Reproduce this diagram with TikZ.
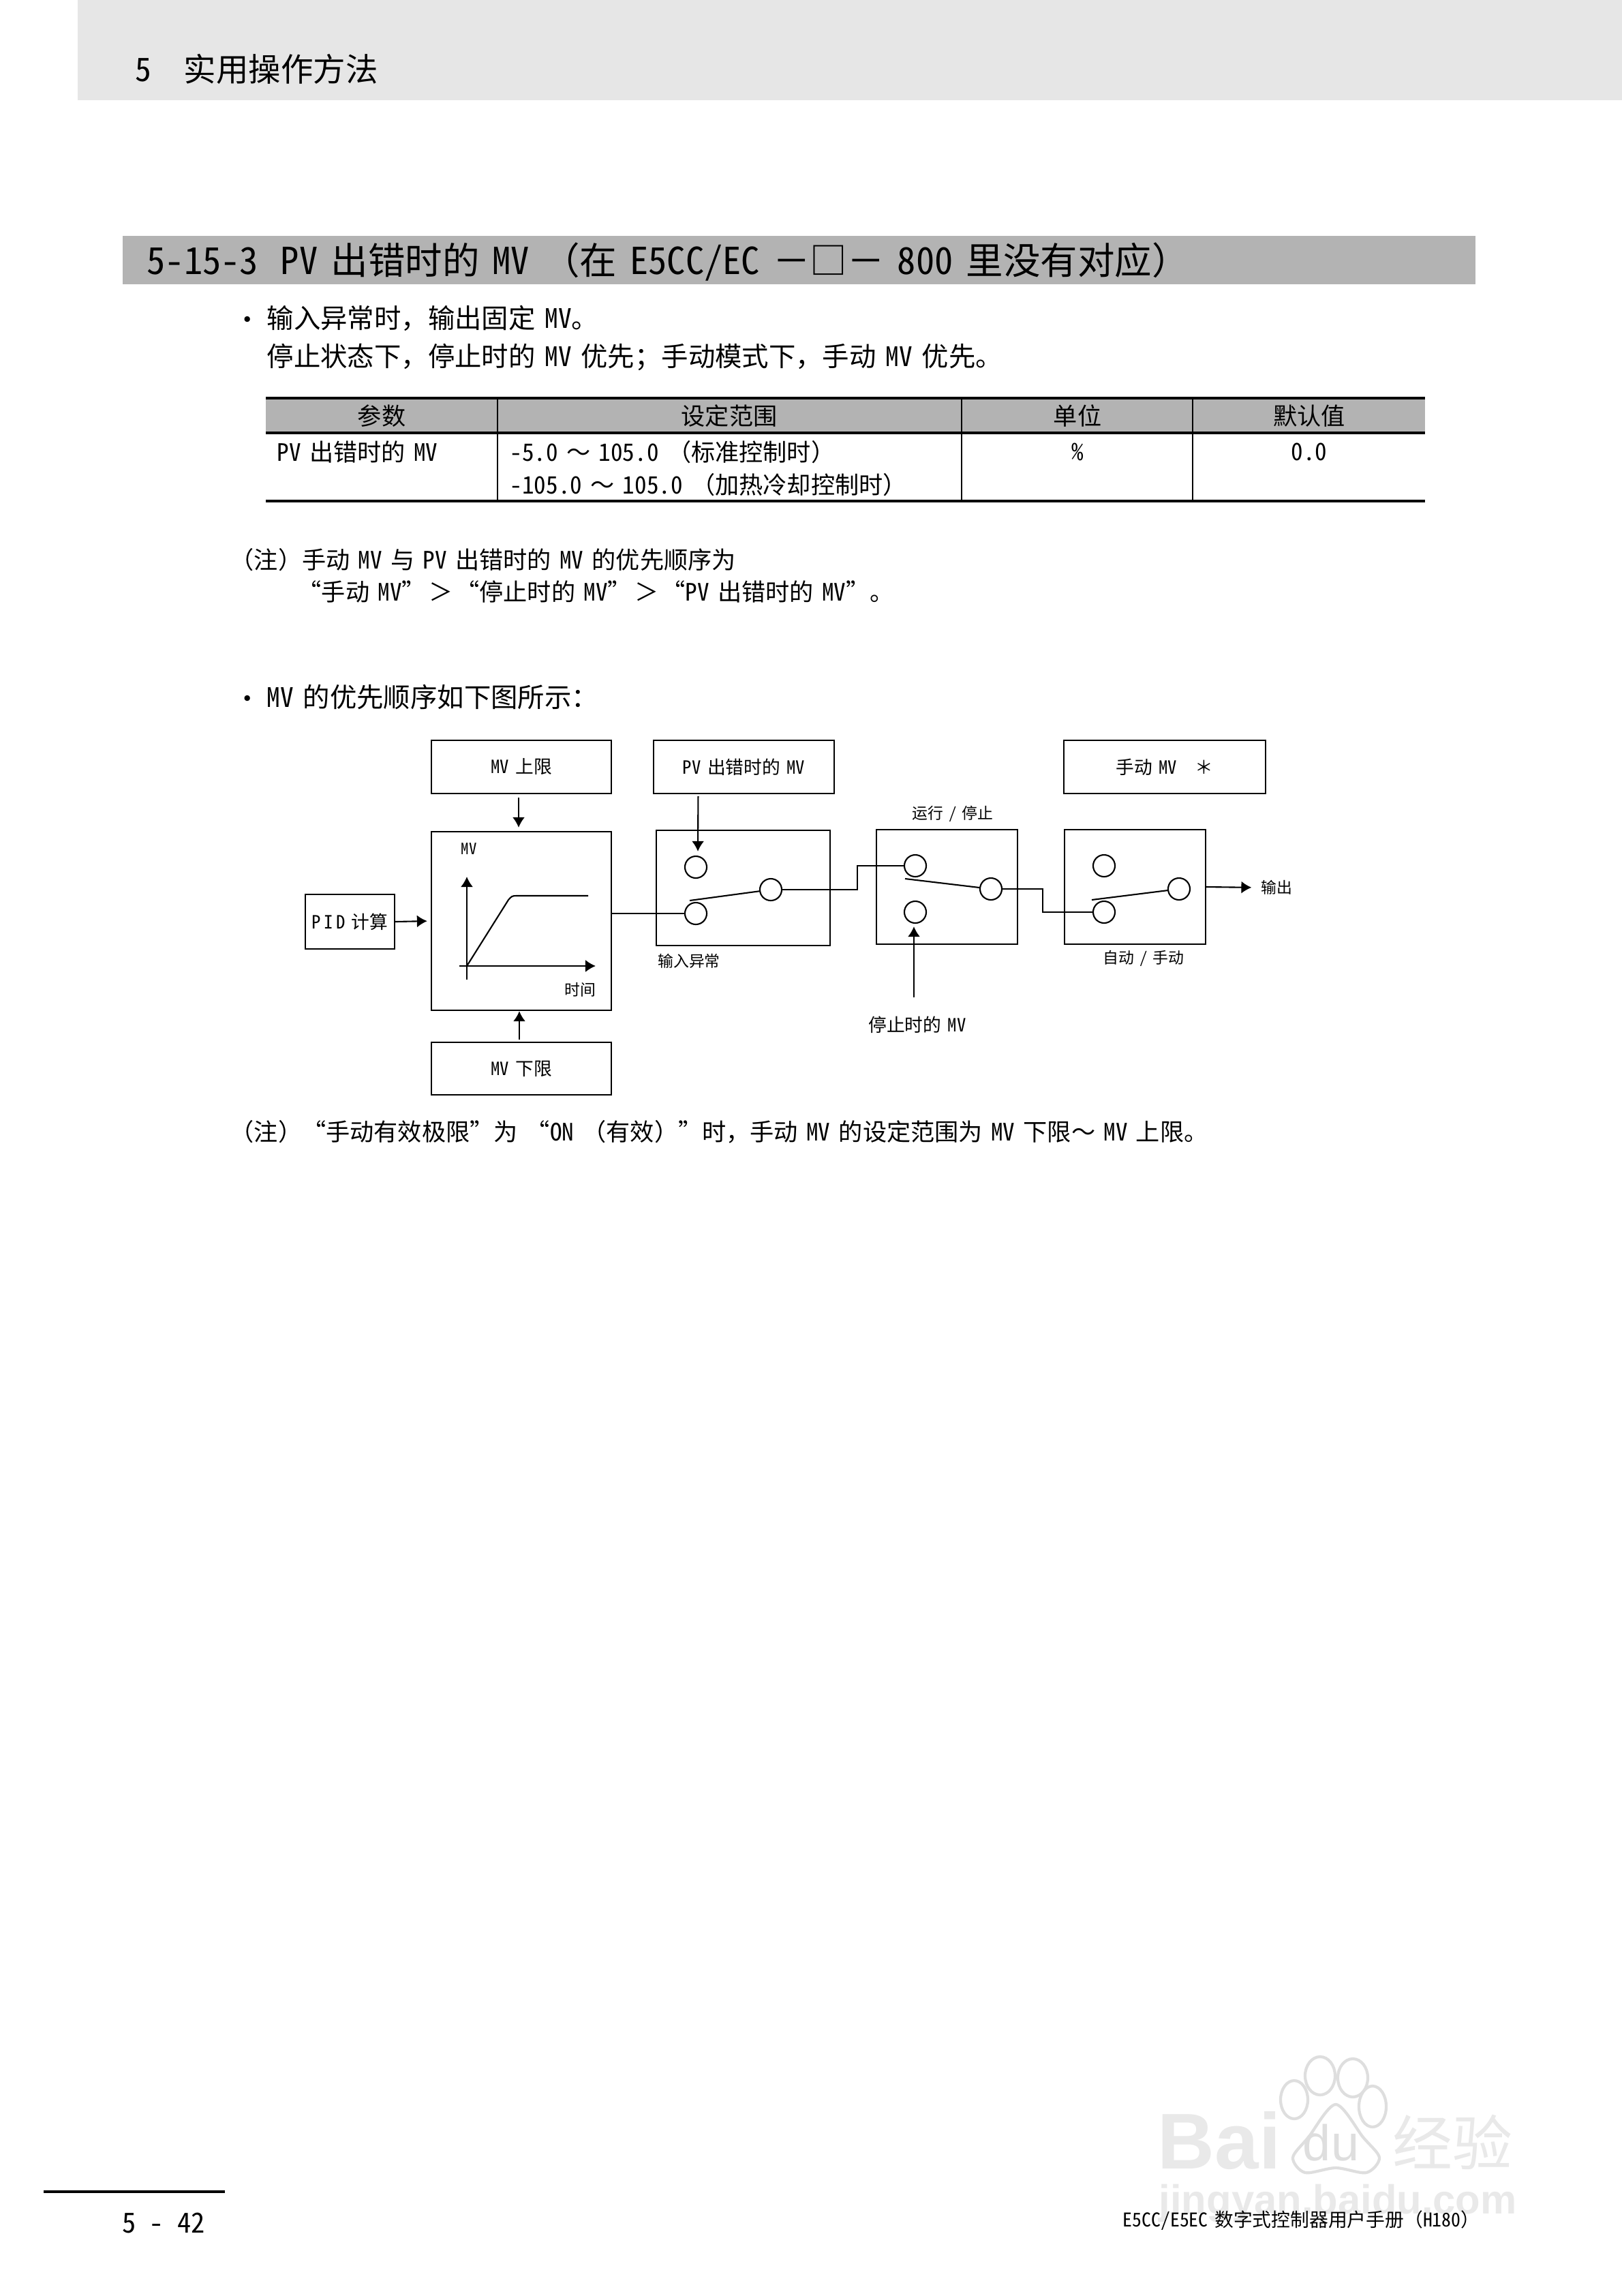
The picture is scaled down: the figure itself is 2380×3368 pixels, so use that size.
\documentclass[tikz,border=0pt]{standalone}
\usepackage{fontspec}
\setmainfont[RawFeature=+hwid,WordSpace=.7]{Noto Sans CJK SC}
\newfontfamily\fwfont[WordSpace=.7]{Noto Sans CJK SC}
\newfontfamily\markfont{Liberation Sans}
\newcommand{\fw}[1]{{\fwfont #1}}
\usetikzlibrary{arrows.meta}
\definecolor{pageband}{HTML}{E6E6E6}
\definecolor{titleband}{HTML}{B3B3B3}
\definecolor{markgray}{HTML}{E9E9E9}
\definecolor{markline}{HTML}{DEDEDE}
\tikzset{
  bodytext/.style={anchor=west,inner sep=0pt,font=\fontsize{11.2}{13}\selectfont},
  notetext/.style={anchor=west,inner sep=0pt,font=\fontsize{10}{12}\selectfont},
  celltext/.style={inner sep=0pt,font=\fontsize{10}{12}\selectfont},
  blocktext/.style={inner sep=0pt,font=\fontsize{7.6}{9}\selectfont},
  smalltext/.style={inner sep=0pt,font=\fontsize{6.5}{8}\selectfont},
  wire/.style={line width=.6pt},
  sig/.style={line width=.6pt,-{Latex[length=.15cm,width=.18cm]}},
  rule/.style={line width=1pt}
}
\begin{document}
\begin{tikzpicture}[x=.01cm,y=-.01cm]
      \useasboundingbox (0,0) rectangle (2380,3368);

      \fill[pageband] (114,0) rectangle (2380,147);
      \fill[titleband] (180,346) rectangle (2165,417);
      \fill[titleband] (390,586) rectangle (2091,634);

      \begin{scope}[every node/.style={inner sep=0pt,text=markgray}]
        \draw[markline,line width=1.2pt] (1899,3080) ellipse (20 and 28);
        \draw[markline,line width=1.2pt] (1937,3045) ellipse (22 and 28);
        \draw[markline,line width=1.2pt] (1985,3048) ellipse (22 and 28);
        \draw[markline,line width=1.2pt] (2014,3090) ellipse (20 and 30);
        \draw[markline,line width=1.2pt] plot[smooth cycle] coordinates {(1960,3087) (2000,3135) (2024,3165) (2005,3187) (1960,3180) (1915,3187) (1897,3165) (1920,3135)};
        \node[anchor=west,font=\bfseries\markfont\fontsize{33}{40}\selectfont] (markbai) at (1698,3140) {Bai};
        \node[font=\markfont\fontsize{21}{24}\selectfont,text=markline] (markdu) at (1953,3143) {du};
        \node[anchor=west,font=\fontsize{25}{30}\selectfont] (markjy) at (2043,3142) {经验};
        \node[anchor=west,font=\bfseries\markfont\fontsize{17}{20}\selectfont] (markurl) at (1700,3232) {jingyan.baidu.com};
      \end{scope}

      \node[anchor=west,inner sep=0pt,font=\fontsize{13.5}{16}\selectfont] (chapter) at (198,101) {5\hspace{1em}实用操作方法};
      \node[anchor=west,inner sep=0pt,font=\fontsize{15.5}{18}\selectfont] (title) at (215,384) {5-15-3\hspace{.6em}PV 出错时的 MV \fw{（}在 E5CC/EC \fw{－□－} 800 里没有对应\fw{）}};

      \begin{scope}[every node/.style={bodytext}]
        \node (dot1)  at (343,474)  {•};
        \node (line1) at (391,467)  {输入异常时\fw{，}输出固定 MV\fw{。}};
        \node (line2) at (391,524)  {停止状态下\fw{，}停止时的 MV 优先\fw{；}手动模式下\fw{，}手动 MV 优先\fw{。}};
        \node (dot2)  at (343,1030) {•};
        \node (line3) at (391,1023) {MV 的优先顺序如下图所示\fw{：}};
      \end{scope}

      \begin{scope}[every node/.style={notetext}]
        \node (note1) at (337,821)  {\fw{（注）}手动 MV 与 PV 出错时的 MV 的优先顺序为};
        \node (note2) at (436,868)  {“手动 MV”\hspace{.12em}\fw{＞}\hspace{.12em}“停止时的 MV”\hspace{.12em}\fw{＞}\hspace{.12em}“PV 出错时的 MV”\fw{。}};
        \node (note3) at (337,1660) {\fw{（注）}“手动有效极限”为 “ON \fw{（}有效\fw{）}”时\fw{，}手动 MV 的设定范围为 MV 下限\fw{～} MV 上限\fw{。}};
      \end{scope}

      \draw[rule] (390,584) -- (2091,584);
      \draw[rule] (390,635) -- (2091,635);
      \draw[rule] (390,735) -- (2091,735);
      \draw[line width=.4pt] (730,584) -- (730,735);
      \draw[line width=.4pt] (1411,584) -- (1411,735);
      \draw[line width=.4pt] (1750,584) -- (1750,735);

      \begin{scope}[every node/.style={celltext}]
        \node (head1) at (560,610)  {参数};
        \node (head2) at (1070,610) {设定范围};
        \node (head3) at (1581,610) {单位};
        \node (head4) at (1921,610) {默认值};
        \node[anchor=west] (cell1) at (406,663) {PV 出错时的 MV};
        \node[anchor=west] (cell2) at (748,663) {-5.0 \fw{～} 105.0 \fw{（}标准控制时\fw{）}};
        \node[anchor=west] (cell3) at (748,711) {-105.0 \fw{～} 105.0 \fw{（}加热冷却控制时\fw{）}};
        \node (cell4) at (1581,663) {\%};
        \node (cell5) at (1921,663) {0.0};
      \end{scope}

      \begin{scope}[every node/.style={draw,line width=.6pt,inner sep=0pt,blocktext}]
        \node[minimum width=2.64cm,minimum height=.78cm] (mvhi)  at (765,1125)    {MV 上限};
        \node[minimum width=2.64cm,minimum height=2.62cm] (mvbox) at (765,1351)   {};
        \node[minimum width=2.64cm,minimum height=.77cm] (mvlo)  at (765,1567.5)  {MV 下限};
        \node[minimum width=1.31cm,minimum height=.8cm] (pid)   at (513.5,1352)   {P\,I\,D 计算};
        \node[minimum width=2.65cm,minimum height=.78cm] (pverr) at (1091.5,1125) {PV 出错时的 MV};
        \node[minimum width=2.96cm,minimum height=.78cm] (manual) at (1709,1125)  {手动 MV\quad \fw{＊}};
        \node[minimum width=2.55cm,minimum height=1.69cm] (sw1) at (1090.5,1302.5) {};
        \node[minimum width=2.07cm,minimum height=1.68cm] (sw2) at (1389.5,1301)   {};
        \node[minimum width=2.07cm,minimum height=1.68cm] (sw3) at (1665.5,1301)   {};
      \end{scope}

      \begin{scope}[every node/.style={circle,draw,line width=.6pt,inner sep=0pt,minimum size=.32cm}]
        \node (c1a) at (1021,1272) {};
        \node (c1b) at (1021,1340) {};
        \node (c1c) at (1131,1305) {};
        \node (c2a) at (1343,1270) {};
        \node (c2b) at (1343,1338) {};
        \node (c2c) at (1454,1304) {};
        \node (c3a) at (1620,1270) {};
        \node (c3b) at (1620,1338) {};
        \node (c3c) at (1730,1304) {};
      \end{scope}

      \begin{scope}[every node/.style={smalltext}]
        \node (mvlab)   at (688,1245)  {MV};
        \node (timelab) at (851,1452)  {时间};
        \node (errlab)  at (1011,1410) {输入异常};
        \node (runlab)  at (1398,1194) {运行 / 停止};
        \node (autolab) at (1678,1406) {自动 / 手动};
        \node (outlab)  at (1873,1302) {输出};
        \node[blocktext] (stoplab) at (1346,1503) {停止时的 MV};
      \end{scope}

      \coordinate (arm1)  at (1012,1321);
      \coordinate (arm2)  at (1328,1289);
      \coordinate (arm3)  at (1602,1320);
      \coordinate (stop)  at (1341,1463);
      \coordinate (axx0)  at (674,1417);
      \coordinate (axx1)  at (874,1417);
      \coordinate (axy0)  at (685,1437);
      \coordinate (axy1)  at (685,1286);

      \begin{scope}[every edge/.style={draw,sig}]
        \path ([xshift=-.04cm]mvhi.south) edge[shorten <=.05cm,shorten >=.05cm] ([xshift=-.04cm]mvbox.north);
        \path ([xshift=-.03cm]mvlo.north) edge[shorten <=.03cm] ([xshift=-.03cm]mvbox.south);
        \path (pid.east) edge[shorten >=.05cm] (mvbox.west);
        \path ([xshift=-.67cm]pverr.south) edge[shorten <=.03cm] ([xshift=.03cm,yshift=.06cm]c1a.north);
        \path (stop) edge[shorten >=.04cm] (c2b.south -| stop);
        \path (sw3.east) edge[shorten >=.13cm] (outlab.west);
        \path (axy0) edge (axy1);
        \path (axx0) edge (axx1);
      \end{scope}

      \draw[wire] (c1b.west) -- (c1b.west -| mvbox.east);
      \draw[wire] (c1c.east) -- ++(110,0) |- (c2a.west);
      \draw[wire] (c2c.east) -- ++(59,0) |- (c3b.west);
      \draw[wire] (arm1) -- (c1c);
      \draw[wire] (arm2) -- (c2c);
      \draw[wire] (arm3) -- (c3c);
      \draw[wire] (685,1417) -- (746,1320) .. controls (750,1315) and (752,1314) .. (757,1314) -- (863,1314);

      \draw[line width=1.1pt] (64,3215) -- (330,3215);
      \node[inner sep=0pt,font=\fontsize{11.5}{13}\selectfont] (pageno) at (240,3261) {5\hspace{.5em}-\hspace{.5em}42};
      \node[anchor=west,inner sep=0pt,font=\fontsize{7.9}{9}\selectfont] (manualname) at (1647,3257) {E5CC/E5EC 数字式控制器用户手册\fw{（}H180\fw{）}};

\end{tikzpicture}
\end{document}
